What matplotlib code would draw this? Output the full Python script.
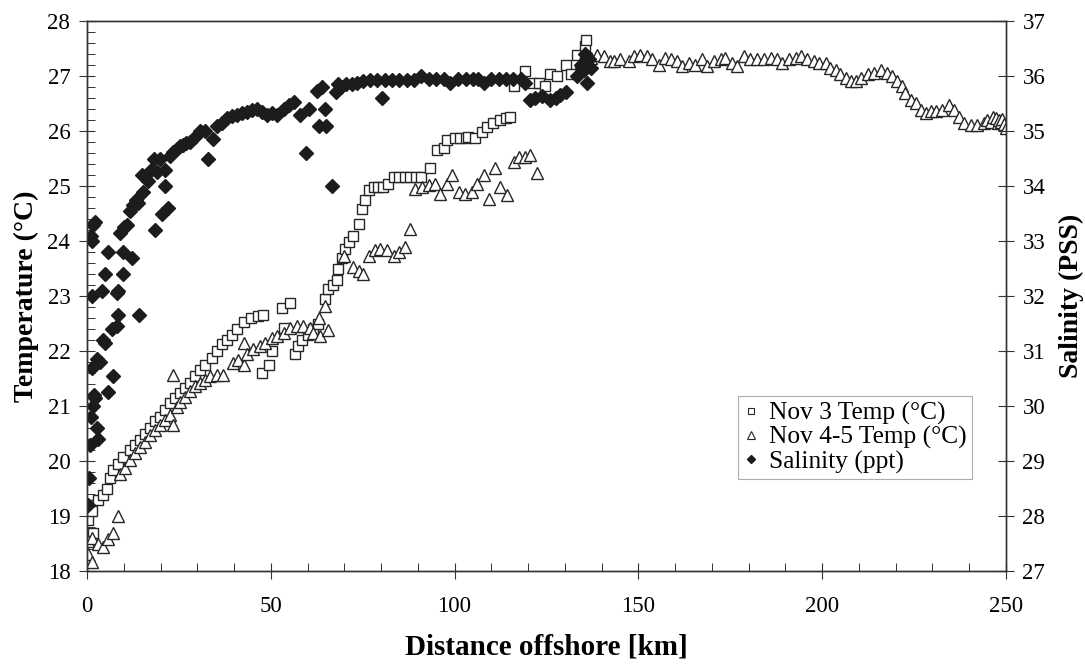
import matplotlib
matplotlib.use("Agg")
import matplotlib.pyplot as plt
from matplotlib.ticker import MultipleLocator
from matplotlib.lines import Line2D

plt.rcParams['font.family'] = ['Liberation Serif', 'DejaVu Serif']

# Nov 3 temperature (open squares)
nov3_km = [0.4, 1.0, 1.3, 1.7, 3.1, 4.4, 5.4, 6.3, 7.2, 8.5, 9.9, 11.7, 13.0, 14.4, 15.8,
           17.2, 18.5, 19.9, 21.2, 22.6, 24.0, 25.3, 26.7, 28.0, 29.4, 30.8, 32.0, 34.0,
           35.3, 36.7, 38.0, 39.4, 40.8, 42.6, 44.5, 46.5, 47.8, 47.6, 49.4, 50.3, 53.0,
           53.5, 55.3, 56.6, 57.5, 58.5, 60.0, 61.4, 62.8, 64.8, 65.7, 67.0, 68.0, 68.4,
           69.4, 70.3, 71.2, 72.5, 73.9, 74.8, 75.7, 76.6, 78.0, 79.3, 80.6, 82.0, 83.5,
           85.0, 86.5, 88.0, 89.5, 91.0, 93.4, 95.2, 97.0, 98.0, 100.0, 101.5, 103.0,
           103.8, 105.6, 107.5, 108.8, 110.6, 112.5, 114.0, 115.2, 116.1, 119.3, 121.0,
           123.0, 124.7, 126.0, 127.8, 130.2, 131.7, 133.4, 135.6, 135.8]
nov3_temp = [18.93, 19.2, 19.1, 18.7, 19.29, 19.38, 19.5, 19.7, 19.83, 19.95, 20.08, 20.2,
             20.3, 20.38, 20.5, 20.6, 20.72, 20.8, 20.93, 21.05, 21.14, 21.23, 21.32, 21.42,
             21.54, 21.66, 21.75, 21.88, 22.0, 22.12, 22.2, 22.3, 22.4, 22.52, 22.6, 22.64,
             22.65, 21.6, 21.75, 22.0, 22.79, 22.42, 22.88, 21.94, 22.1, 22.2, 22.3, 22.4,
             22.5, 22.94, 23.12, 23.2, 23.3, 23.49, 23.7, 23.86, 23.98, 24.1, 24.31, 24.59,
             24.74, 24.92, 24.98, 24.98, 24.98, 25.04, 25.17, 25.17, 25.17, 25.17, 25.17,
             25.17, 25.32, 25.65, 25.7, 25.84, 25.88, 25.88, 25.88, 25.9, 25.88, 25.99,
             26.08, 26.14, 26.2, 26.24, 26.26, 26.81, 27.09, 26.87, 26.87, 26.81, 27.03,
             27.0, 27.2, 27.03, 27.39, 27.55, 27.65]

# Nov 4-5 temperature (open triangles)
nov45_km = [0.4, 1.3, 0.4, 1.3, 3.1, 4.4, 5.8, 7.2, 8.5, 9.0, 10.3, 11.7, 13.0, 14.4, 15.8,
            17.2, 18.5, 19.9, 21.2, 22.6, 23.5, 23.5, 24.4, 25.3, 26.7, 28.0, 29.4, 30.8,
            32.0, 33.5, 35.3, 37.1, 39.8, 41.2, 42.6, 42.6, 43.5, 45.3, 47.1, 48.5, 50.3,
            51.6, 53.5, 55.3, 57.1, 58.9, 60.7, 61.6, 63.0, 63.5, 64.8, 65.7, 69.8, 72.5,
            73.9, 75.2, 76.6, 78.4, 79.7, 81.6, 83.4, 84.8, 86.6, 88.0, 89.3, 91.1, 93.0,
            94.8, 96.1, 97.9, 99.3, 101.1, 102.9, 104.7, 106.1, 107.9, 109.3, 111.1, 112.5,
            114.3, 116.1, 117.5, 119.3, 120.6, 122.5, 134.5, 135.5, 137.0, 138.8, 140.6,
            142.4, 143.3, 145.0, 147.4, 148.7, 150.5, 152.3, 153.8, 155.6, 157.4, 158.8,
            160.6, 161.9, 163.7, 165.5, 167.4, 168.7, 170.6, 172.4, 173.7, 175.5, 176.9,
            178.7, 180.5, 182.4, 184.2, 186.0, 187.8, 189.2, 191.0, 192.8, 194.2, 196.0,
            197.8, 199.2, 201.0, 202.3, 203.7, 205.0, 206.4, 207.8, 209.2, 210.5, 212.4,
            214.1, 216.0, 217.8, 219.1, 220.5, 221.8, 222.7, 224.1, 225.5, 226.8, 228.2,
            229.6, 230.9, 232.7, 234.6, 236.0, 237.3, 238.7, 240.5, 242.3, 244.1, 245.0,
            245.9, 246.5, 247.3, 247.8, 248.2, 248.6, 249.0, 249.4, 250.0]
nov45_temp = [18.31, 18.16, 18.55, 18.6, 18.5, 18.44, 18.58, 18.7, 19.01, 19.77, 19.87, 20.02,
              20.14, 20.26, 20.35, 20.47, 20.56, 20.66, 20.75, 20.84, 20.66, 21.57, 20.99,
              21.08, 21.17, 21.27, 21.36, 21.42, 21.48, 21.54, 21.57, 21.57, 21.78, 21.84,
              22.15, 21.75, 21.94, 22.03, 22.09, 22.15, 22.24, 22.27, 22.33, 22.42, 22.46,
              22.46, 22.42, 22.33, 22.61, 22.27, 22.82, 22.39, 23.73, 23.52, 23.46, 23.4,
              23.73, 23.83, 23.85, 23.83, 23.73, 23.8, 23.89, 24.22, 24.95, 24.98, 25.01,
              25.04, 24.86, 25.04, 25.2, 24.89, 24.86, 24.89, 25.04, 25.2, 24.77, 25.32,
              24.98, 24.83, 25.44, 25.53, 25.53, 25.56, 25.23, 27.25, 27.4, 27.33, 27.39,
              27.36, 27.27, 27.27, 27.3, 27.27, 27.36, 27.39, 27.36, 27.3, 27.2, 27.33, 27.3,
              27.27, 27.18, 27.24, 27.2, 27.3, 27.18, 27.27, 27.3, 27.33, 27.24, 27.18, 27.36,
              27.3, 27.3, 27.3, 27.33, 27.3, 27.24, 27.3, 27.33, 27.36, 27.3, 27.27, 27.24,
              27.24, 27.15, 27.1, 27.03, 26.97, 26.9, 26.9, 26.97, 27.03, 27.06, 27.1, 27.06,
              27.0, 26.9, 26.81, 26.69, 26.57, 26.51, 26.39, 26.33, 26.36, 26.36, 26.39,
              26.48, 26.39, 26.26, 26.14, 26.11, 26.11, 26.14, 26.2, 26.17, 26.25, 26.23,
              26.15, 26.2, 26.17, 26.22, 26.12, 26.05]

# Salinity (filled diamonds, right axis)
sal_km = [0.4, 0.5, 0.9, 1.2, 1.5, 1.8, 2.3, 2.6, 3.0, 1.3, 2.6, 3.5, 4.4, 4.9, 5.8, 7.2,
          6.7, 8.1, 8.5, 14.1, 1.3, 4.0, 4.9, 8.1, 8.5, 9.9, 5.8, 9.9, 12.2, 1.3, 1.0, 1.7,
          2.2, 9.0, 10.0, 10.8, 11.7, 12.5, 13.2, 14.0, 15.3, 14.9, 16.6, 18.5, 20.3, 22.1,
          19.0, 21.2, 21.2, 17.3, 18.1, 19.9, 22.6, 23.5, 24.4, 25.2, 26.0, 27.0, 28.0,
          29.5, 30.8, 32.0, 33.0, 34.4, 35.3, 36.6, 38.0, 39.4, 40.8, 42.2, 43.5, 44.8,
          46.2, 47.5, 48.9, 50.2, 51.6, 53.5, 55.0, 56.2, 58.0, 59.6, 60.3, 62.6, 63.9,
          63.0, 65.0, 64.8, 66.6, 67.8, 68.2, 69.0, 70.5, 72.0, 73.5, 75.0, 77.0, 79.0,
          80.2, 81.0, 83.0, 85.0, 87.0, 89.0, 91.0, 93.0, 95.0, 97.0, 98.9, 101.0, 103.0,
          105.0, 106.5, 108.0, 110.0, 112.0, 114.0, 116.0, 118.0, 119.3, 120.6, 121.9,
          123.8, 126.0, 127.5, 128.8, 130.2, 133.4, 134.5, 135.2, 135.6, 136.0, 136.5,
          137.0]
sal_pss = [28.2, 28.7, 29.3, 29.8, 30.0, 30.2, 30.15, 29.6, 29.4, 30.7, 30.85, 30.8, 31.2,
           31.15, 30.25, 30.55, 31.4, 31.45, 31.65, 31.65, 32.0, 32.1, 32.4, 32.05, 32.1,
           32.4, 32.8, 32.8, 32.7, 33.0, 33.1, 33.3, 33.35, 33.15, 33.25, 33.3, 33.55,
           33.65, 33.75, 33.7, 33.9, 34.2, 34.1, 33.2, 33.5, 33.6, 34.25, 34.0, 34.3, 34.3,
           34.5, 34.5, 34.55, 34.62, 34.68, 34.72, 34.75, 34.78, 34.8, 34.9, 35.0, 35.0,
           34.5, 34.85, 35.1, 35.15, 35.23, 35.27, 35.3, 35.33, 35.35, 35.38, 35.4, 35.35,
           35.3, 35.32, 35.3, 35.4, 35.47, 35.52, 35.3, 34.6, 35.4, 35.73, 35.8, 35.1, 35.1,
           35.4, 34.0, 35.7, 35.85, 35.8, 35.85, 35.85, 35.88, 35.9, 35.92, 35.92, 35.6,
           35.92, 35.92, 35.92, 35.92, 35.93, 36.0, 35.95, 35.95, 35.95, 35.87, 35.95,
           35.95, 35.95, 35.95, 35.87, 35.95, 35.95, 35.95, 35.95, 35.95, 35.87, 35.57,
           35.6, 35.63, 35.57, 35.6, 35.66, 35.7, 36.0, 36.2, 36.1, 36.4, 35.87, 36.3, 36.15]

fig = plt.figure(figsize=(10.85, 6.68), dpi=100)
ax = fig.add_axes([0.0802, 0.145, 0.8468, 0.8236])
ax2 = ax.twinx()

ink = '#262626'
ax.plot(nov3_km, nov3_temp, linestyle='none', marker='s', ms=7.5, mfc='white',
        mec=ink, mew=1.0)
ax.plot(nov45_km, nov45_temp, linestyle='none', marker='^', ms=8.5, mfc='white',
        mec=ink, mew=1.0)
ax2.plot(sal_km, sal_pss, linestyle='none', marker='D', ms=7.5, color='#1c1c1c', mec='#1c1c1c')

ax.set_xlim(0, 250)
ax.set_ylim(18, 28)
ax2.set_ylim(27, 37)

ax.xaxis.set_major_locator(MultipleLocator(50))
ax.xaxis.set_minor_locator(MultipleLocator(10))
ax.yaxis.set_major_locator(MultipleLocator(1))
ax.yaxis.set_minor_locator(MultipleLocator(0.2))
ax2.yaxis.set_major_locator(MultipleLocator(1))

ax.tick_params(which='major', direction='inout', length=12, width=0.8, color='#333333',
               labelsize=16.5, top=False, right=False, pad=6)
ax.tick_params(which='minor', direction='in', length=6, width=0.7, color='#333333',
               top=False, right=False)
ax.tick_params(axis='x', which='major', pad=12)
ax2.tick_params(which='major', direction='inout', length=12, width=0.8, color='#333333',
                labelsize=16.5, pad=6)
ax2.tick_params(which='minor', right=False)

for a in (ax, ax2):
    for s in a.spines.values():
        s.set_linewidth(1.0)
        s.set_color('#333333')

ax.set_xlabel('Distance offshore [km]', fontsize=21, fontweight='bold', labelpad=12)
ax.set_ylabel('Temperature (°C)', fontsize=20, fontweight='bold', labelpad=6)
ax2.set_ylabel('Salinity (PSS)', fontsize=20, fontweight='bold', labelpad=10)

handles = [
    Line2D([], [], linestyle='none', marker='s', ms=5, mfc='white', mec=ink, mew=0.8),
    Line2D([], [], linestyle='none', marker='^', ms=5.5, mfc='white', mec=ink, mew=0.8),
    Line2D([], [], linestyle='none', marker='D', ms=4.5, color='#1c1c1c'),
]
labels = ['Nov 3 Temp (°C)', 'Nov 4-5 Temp (°C)', 'Salinity (ppt)']
leg = ax2.legend(handles, labels, loc='lower right', bbox_to_anchor=(0.963, 0.167),
                 borderaxespad=0, fontsize=18.3, frameon=True, fancybox=False,
                 borderpad=0.22, handlelength=0.6, handletextpad=0.4, labelspacing=0.04)
leg.get_frame().set_edgecolor('#999999')
leg.get_frame().set_linewidth(0.8)

fig.savefig('out.png', dpi=100)
